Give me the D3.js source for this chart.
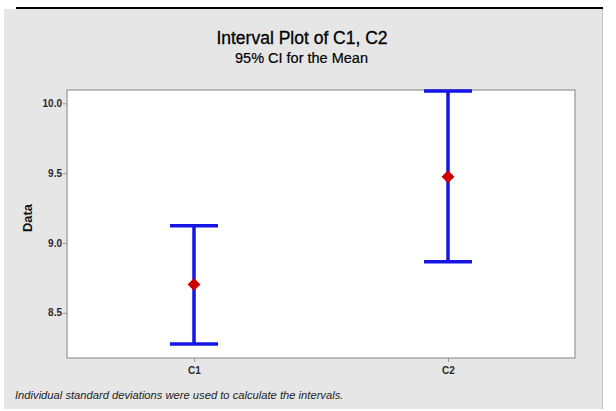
<!DOCTYPE html>
<html>
<head>
<meta charset="utf-8">
<script src="https://cdn.jsdelivr.net/npm/d3@7"></script>
<style>
  body { margin: 0; background: #fff; }
  svg { display: block; }
</style>
</head>
<body>
<div id="chart"></div>
<script>
// values
const categories = ['C1', 'C2'];
const means = [8.703, 9.474];
const lowers = [8.276, 8.865];
const uppers = [9.123, 10.088];
const yTicks = [8.5, 9.0, 9.5, 10.0];

const width = 616, height = 411;
const margin = { top: 90, right: 41, bottom: 53, left: 67 };
const plotW = width - margin.left - margin.right;
const plotH = height - margin.top - margin.bottom;
const font = '"Liberation Sans", Arial, sans-serif';

const svg = d3.select('#chart').append('svg')
  .attr('width', width)
  .attr('height', height);

// black rule at top
svg.append('line')
  .attr('x1', 16).attr('x2', 603).attr('y1', 8).attr('y2', 8)
  .attr('stroke', '#000').attr('stroke-width', 2);

// gray panel
svg.append('rect')
  .attr('x', 4).attr('y', 9).attr('width', 598).attr('height', 400)
  .attr('fill', '#e6e6e6');
svg.append('line')
  .attr('x1', 602.5).attr('x2', 602.5).attr('y1', 9).attr('y2', 409)
  .attr('stroke', '#c4c4c4').attr('stroke-width', 1);

// titles
svg.append('text')
  .attr('x', 302).attr('y', 43.5)
  .attr('text-anchor', 'middle')
  .style('font-family', font)
  .style('font-size', '17.5px')
  .attr('fill', '#000')
  .attr('stroke', '#000').attr('stroke-width', 0.3)
  .text('Interval Plot of C1, C2');

svg.append('text')
  .attr('x', 301.5).attr('y', 62.5)
  .attr('text-anchor', 'middle')
  .style('font-family', font)
  .style('font-size', '14.5px')
  .attr('fill', '#000')
  .attr('stroke', '#000').attr('stroke-width', 0.2)
  .text('95% CI for the Mean');

const g = svg.append('g')
  .attr('transform', `translate(${margin.left},${margin.top})`);

const x = d3.scalePoint()
  .domain(categories)
  .range([0, plotW])
  .padding(0.5);

const y = d3.scaleLinear()
  .domain([8.176, 10.095])
  .range([plotH, 0]);

// plot area
g.append('rect')
  .attr('width', plotW).attr('height', plotH)
  .attr('fill', '#fff')
  .attr('stroke', '#a8a8a8')
  .attr('stroke-width', 1.5);

// axes
const yAxis = g.append('g')
  .call(d3.axisLeft(y).tickValues(yTicks).tickFormat(d3.format('.1f')).tickSize(4).tickSizeOuter(0));
const xAxis = g.append('g')
  .attr('transform', `translate(0,${plotH})`)
  .call(d3.axisBottom(x).tickSize(4).tickSizeOuter(0));

[yAxis, xAxis].forEach(a => {
  a.select('.domain').remove();
  a.selectAll('.tick line').attr('stroke', '#999');
  a.selectAll('.tick text')
    .style('font-family', font)
    .style('font-size', '10px')
    .style('font-weight', 'bold')
    .attr('fill', '#2a2a2a');
});
yAxis.selectAll('.tick text').attr('x', -5);
xAxis.selectAll('.tick text').attr('y', 9);

// y label
svg.append('text')
  .attr('transform', `translate(32,${margin.top + plotH / 2 - 6}) rotate(-90)`)
  .attr('text-anchor', 'middle')
  .style('font-family', font)
  .style('font-size', '13px')
  .style('font-weight', 'bold')
  .attr('fill', '#111')
  .text('Data');

// intervals
const blue = '#1515e6';
const capHalf = 24;
const rows = categories.map((c, i) => ({ c, mean: means[i], lo: lowers[i], hi: uppers[i] }));

const iv = g.selectAll('.interval').data(rows).join('g').attr('class', 'interval');
iv.append('line')
  .attr('x1', d => x(d.c)).attr('x2', d => x(d.c))
  .attr('y1', d => y(d.hi)).attr('y2', d => y(d.lo))
  .attr('stroke', blue).attr('stroke-width', 3.5);
iv.append('line')
  .attr('x1', d => x(d.c) - capHalf).attr('x2', d => x(d.c) + capHalf)
  .attr('y1', d => y(d.hi)).attr('y2', d => y(d.hi))
  .attr('stroke', blue).attr('stroke-width', 3.5);
iv.append('line')
  .attr('x1', d => x(d.c) - capHalf).attr('x2', d => x(d.c) + capHalf)
  .attr('y1', d => y(d.lo)).attr('y2', d => y(d.lo))
  .attr('stroke', blue).attr('stroke-width', 3.5);
iv.append('path')
  .attr('d', d3.symbol().type(d3.symbolSquare).size(82))
  .attr('transform', d => `translate(${x(d.c)},${y(d.mean)}) rotate(45)`)
  .attr('fill', '#cc0000');

// footnote
svg.append('text')
  .attr('x', 15).attr('y', 398.5)
  .style('font-family', font)
  .style('font-size', '11.2px')
  .style('font-style', 'italic')
  .attr('fill', '#222')
  .text('Individual standard deviations were used to calculate the intervals.');
</script>
</body>
</html>
